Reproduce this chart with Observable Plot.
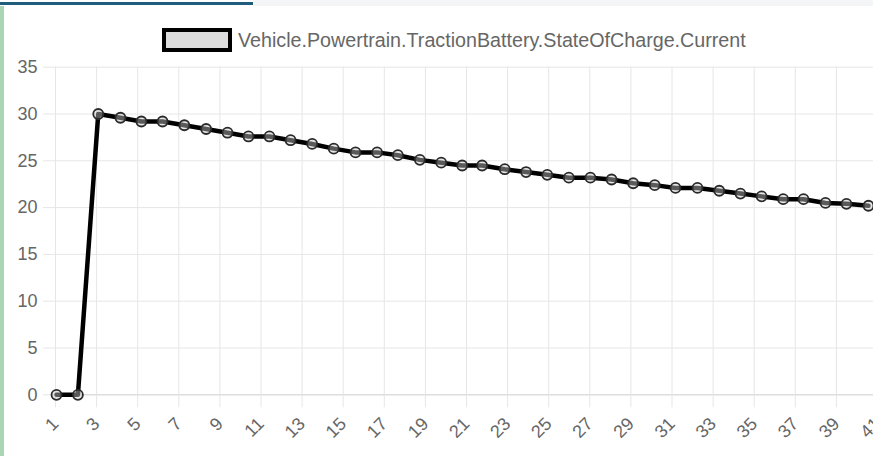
<!DOCTYPE html>
<html>
<head>
<meta charset="utf-8">
<script src="https://cdn.jsdelivr.net/npm/d3@7"></script>
<script src="https://cdn.jsdelivr.net/npm/@observablehq/plot@0.6"></script>
<style>
  html, body { margin: 0; padding: 0; background: #fff; overflow: hidden; }
  #wrap { position: relative; width: 873px; height: 456px; overflow: hidden; font-family: "Liberation Sans", Arial, sans-serif; background: #fff; }
  #topbar { position: absolute; left: 0; top: 2px; width: 253px; height: 3px; background: #1f5d7c; }
  #topgrey { position: absolute; left: 253px; top: 0; width: 620px; height: 6px; background: #f3f5f6; }
  #leftstrip { position: absolute; left: 0; top: 6px; width: 4px; height: 450px; background: #a9d7b6; }
  #legend { position: relative; height: 56px; }
  #legend .box { position: absolute; left: 162px; top: 28px; width: 70px; height: 24px; box-sizing: border-box; border: 4px solid #000; background: #dcdcdc; }
  #legend .lab { position: absolute; left: 238px; top: 29px; font-size: 19.7px; line-height: 22px; color: #666; white-space: nowrap; }
  #chart { position: relative; }
</style>
</head>
<body>
<div id="wrap">
  <div id="topgrey"></div>
  <div id="topbar"></div>
  <div id="legend"><span class="box"></span><span class="lab" id="legendLabel"></span></div>
  <div id="chart"></div>
  <div id="leftstrip"></div>
</div>
<script>
const seriesName = "Vehicle.Powertrain.TractionBattery.StateOfCharge.Current";
// x position of each sample, read against the category ticks
const sampleX = [1.05, 2.09, 3.08, 4.16, 5.18, 6.21, 7.27, 8.33, 9.37, 10.39,
  11.41, 12.44, 13.49, 14.54, 15.60, 16.65, 17.66, 18.73, 19.77, 20.79,
  21.76, 22.86, 23.90, 24.93, 25.98, 27.03, 28.06, 29.11, 30.16, 31.17,
  32.24, 33.30, 34.33, 35.36, 36.41, 37.40, 38.47, 39.49, 40.56];
// state of charge values
const soc = [0, 0, 30.0, 29.6, 29.2, 29.2, 28.8, 28.4, 28.0, 27.6,
  27.6, 27.2, 26.8, 26.3, 25.9, 25.9, 25.6, 25.1, 24.8, 24.5,
  24.5, 24.1, 23.8, 23.5, 23.2, 23.2, 23.0, 22.6, 22.4, 22.1,
  22.1, 21.8, 21.5, 21.2, 20.9, 20.9, 20.5, 20.4, 20.2];
const xTicks = [1, 3, 5, 7, 9, 11, 13, 15, 17, 19, 21, 23, 25, 27, 29, 31, 33, 35, 37, 39, 41];
const yTicks = [0, 5, 10, 15, 20, 25, 30, 35];

document.getElementById("legendLabel").textContent = seriesName;

const data = sampleX.map((x, i) => ({x, y: soc[i]}));
const grid = "#e6e6e6";

const plot = Plot.plot({
  width: 873,
  height: 400,
  marginLeft: 55,
  marginRight: -4,
  marginTop: 10.7,
  marginBottom: 61.7,
  style: {fontFamily: "'Liberation Sans', Arial, sans-serif", fontSize: "18px", color: "#666", background: "transparent", overflow: "visible"},
  x: {type: "linear", domain: [1, 41]},
  y: {type: "linear", domain: [0, 35]},
  marks: [
    Plot.ruleX(xTicks, {stroke: grid}),
    Plot.ruleY(yTicks, {stroke: grid}),
    Plot.ruleY([0], {stroke: "#d6d6d6"}),
    Plot.axisX(xTicks, {tickSize: 13, tickPadding: 13, tickRotate: -45, stroke: grid, fill: "#666", fontSize: 18, label: null, tickFormat: d => String(d)}),
    Plot.axisY(yTicks, {tickSize: 12, tickPadding: 6, stroke: grid, fill: "#666", fontSize: 18, label: null, tickFormat: d => String(d)}),
    Plot.line(data, {x: "x", y: "y", stroke: "#000", strokeWidth: 4.5, strokeLinejoin: "round"}),
    Plot.dot(data, {x: "x", y: "y", r: 5, fill: "rgba(200,200,200,0.45)", stroke: "#2a2a2a", strokeWidth: 1.8})
  ]
});
document.getElementById("chart").appendChild(plot);
</script>
</body>
</html>
